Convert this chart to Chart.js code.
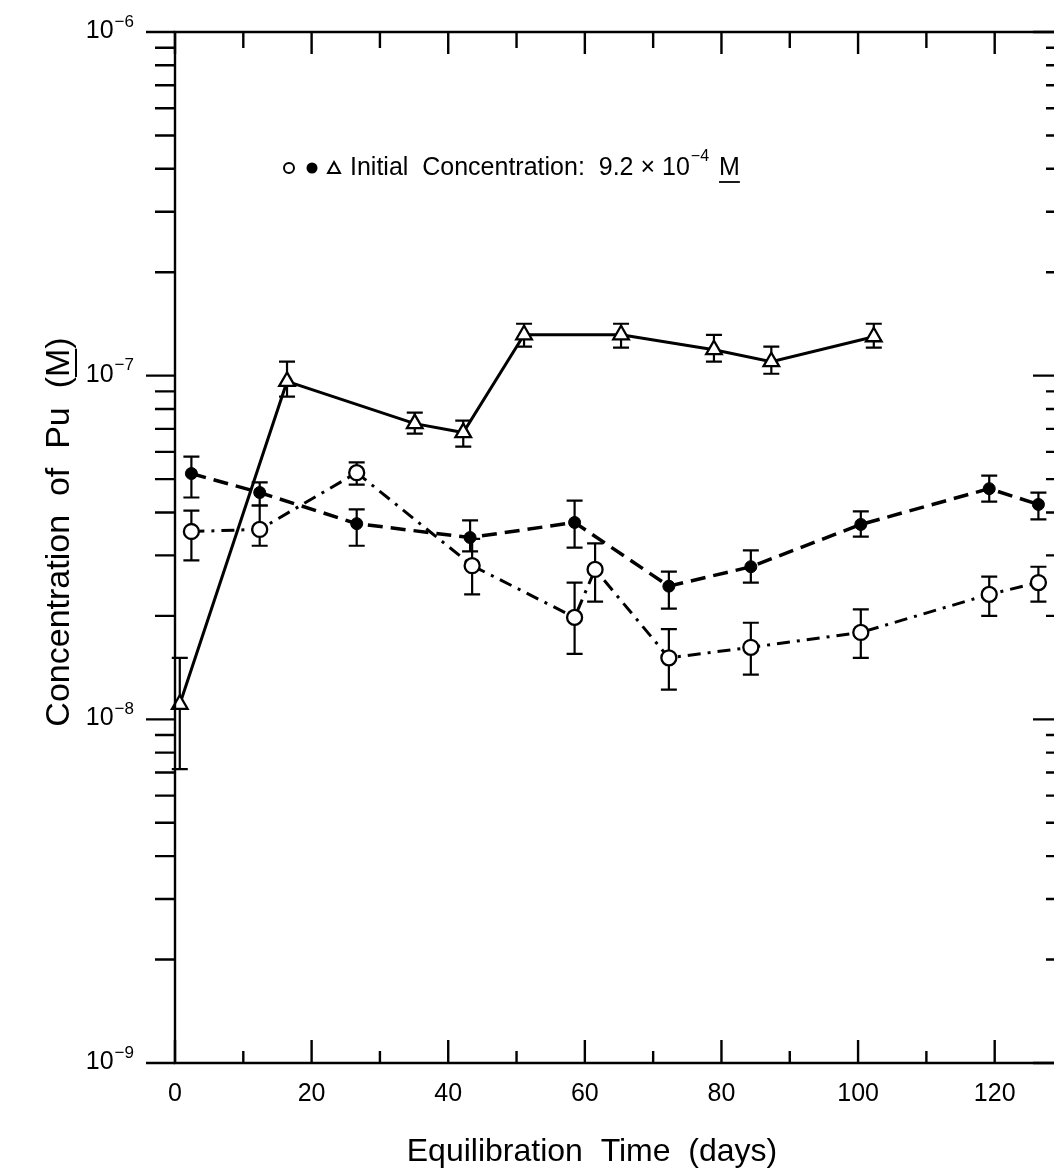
<!DOCTYPE html>
<html><head><meta charset="utf-8">
<script src="https://cdn.jsdelivr.net/npm/chart.js@4/dist/chart.umd.min.js"></script>
<style>
html,body{margin:0;padding:0;background:#fff;overflow:hidden;width:1054px;height:1175px}
canvas{display:block}
</style>
</head><body>
<canvas id="c" width="1080" height="1175"></canvas>
<script>
// ---- data ----
const openDays  = [2.4, 12.4, 26.6, 43.5, 58.5, 61.5, 72.3, 84.3, 100.4, 119.2, 126.4];
const openConc  = [3.52e-8, 3.57e-8, 5.22e-8, 2.80e-8, 1.98e-8, 2.73e-8, 1.51e-8, 1.62e-8, 1.79e-8, 2.31e-8, 2.50e-8];
const openLow   = [2.90e-8, 3.20e-8, 4.82e-8, 2.31e-8, 1.55e-8, 2.20e-8, 1.22e-8, 1.35e-8, 1.51e-8, 2.00e-8, 2.20e-8];
const openHigh  = [4.05e-8, 4.19e-8, 5.59e-8, 3.35e-8, 2.50e-8, 3.25e-8, 1.83e-8, 1.91e-8, 2.09e-8, 2.60e-8, 2.78e-8];

const filledDays = [2.4, 12.4, 26.6, 43.2, 58.5, 72.3, 84.3, 100.4, 119.2, 126.4];
const filledConc = [5.19e-8, 4.57e-8, 3.71e-8, 3.38e-8, 3.74e-8, 2.44e-8, 2.78e-8, 3.69e-8, 4.69e-8, 4.22e-8];
const filledLow  = [4.42e-8, 4.19e-8, 3.20e-8, 3.08e-8, 3.16e-8, 2.10e-8, 2.50e-8, 3.40e-8, 4.30e-8, 3.82e-8];
const filledHigh = [5.81e-8, 4.89e-8, 4.08e-8, 3.79e-8, 4.33e-8, 2.69e-8, 3.10e-8, 4.03e-8, 5.12e-8, 4.57e-8];

const triDays = [0.7, 16.4, 35.1, 42.2, 51.1, 65.3, 78.9, 87.3, 102.3];
const triConc = [1.106e-8, 9.62e-8, 7.25e-8, 6.83e-8, 1.315e-7, 1.315e-7, 1.19e-7, 1.098e-7, 1.298e-7];
const triLow  = [7.16e-9, 8.69e-8, 6.78e-8, 6.22e-8, 1.215e-7, 1.206e-7, 1.098e-7, 1.013e-7, 1.206e-7];
const triHigh = [1.51e-8, 1.099e-7, 7.81e-8, 7.40e-8, 1.416e-7, 1.416e-7, 1.315e-7, 1.215e-7, 1.416e-7];

const xMajorTicks = [0, 20, 40, 60, 80, 100, 120];
const xMinorTicks = [10, 30, 50, 70, 90, 110, 130];
const xTickLabels = ['0', '20', '40', '60', '80', '100', '120'];
const yDecadeExponents = [-6, -7, -8, -9];
const xRange = [0, 130];
const yRange = [1e-9, 1e-6];

const xTitle = 'Equilibration  Time  (days)';
const yTitleMain = 'Concentration  of  Pu  (';
const yTitleUnit = 'M';
const legendText = 'Initial  Concentration:  9.2 \u00D7 10';
const legendExp = '\u22124';
const legendUnit = 'M';

// ---- chart ----
const FONT = "'Liberation Sans', Arial, Helvetica, sans-serif";
const pts = (xs, ys) => xs.map((x, i) => ({x: x, y: ys[i]}));

const errorBars = [
  {days: openDays, low: openLow, high: openHigh},
  {days: filledDays, low: filledLow, high: filledHigh},
  {days: triDays, low: triLow, high: triHigh}
];

function drawPow(ctx, xRight, yMid, base, exp, size) {
  ctx.save();
  ctx.textBaseline = 'alphabetic';
  ctx.textAlign = 'left';
  const supSize = Math.round(size * 0.68);
  ctx.font = supSize + 'px ' + FONT;
  const wExp = ctx.measureText(exp).width;
  ctx.font = size + 'px ' + FONT;
  const wBase = ctx.measureText(base).width;
  const x0 = xRight - wExp - wBase - 1;
  const baseline = yMid + size * 0.36;
  ctx.fillText(base, x0, baseline);
  ctx.font = supSize + 'px ' + FONT;
  ctx.fillText(exp, x0 + wBase + 1, baseline - size * 0.45);
  ctx.restore();
}

const framePlugin = {
  id: 'frame',
  beforeDatasetsDraw(chart) {
    const ctx = chart.ctx, xs = chart.scales.x, ys = chart.scales.y;
    ctx.save();
    ctx.strokeStyle = '#000';
    ctx.lineWidth = 2.2;
    errorBars.forEach(s => {
      s.days.forEach((d, i) => {
        const px = xs.getPixelForValue(d);
        const y1 = ys.getPixelForValue(s.low[i]);
        const y2 = ys.getPixelForValue(s.high[i]);
        ctx.beginPath();
        ctx.moveTo(px, y1); ctx.lineTo(px, y2);
        ctx.moveTo(px - 8, y1); ctx.lineTo(px + 8, y1);
        ctx.moveTo(px - 8, y2); ctx.lineTo(px + 8, y2);
        ctx.stroke();
      });
    });
    ctx.restore();
  },
  afterDraw(chart) {
    const ctx = chart.ctx, xs = chart.scales.x, ys = chart.scales.y;
    const a = chart.chartArea;
    ctx.save();
    ctx.strokeStyle = '#000';
    ctx.fillStyle = '#000';
    ctx.lineWidth = 2.4;
    ctx.lineCap = 'butt';
    // frame
    ctx.beginPath();
    ctx.rect(a.left, a.top, a.right - a.left, a.bottom - a.top);
    ctx.stroke();
    // y ticks (left outward, right inward)
    yDecadeExponents.forEach((e, k) => {
      for (let m = 1; m <= 9; m++) {
        if (m > 1 && k === 0) continue;
        const v = m * Math.pow(10, e);
        if (v < yRange[0] || v > yRange[1]) continue;
        const py = ys.getPixelForValue(v);
        const major = m === 1;
        ctx.beginPath();
        ctx.moveTo(a.left - (major ? 29 : 20), py); ctx.lineTo(a.left, py);
        ctx.moveTo(a.right - (major ? 30 : 17), py); ctx.lineTo(a.right, py);
        ctx.stroke();
      }
    });
    // x ticks (bottom and top, inward)
    xMajorTicks.forEach(t => {
      const px = xs.getPixelForValue(t);
      ctx.beginPath();
      ctx.moveTo(px, a.bottom); ctx.lineTo(px, a.bottom - 23);
      ctx.moveTo(px, a.top); ctx.lineTo(px, a.top + 22);
      ctx.stroke();
    });
    xMinorTicks.forEach(t => {
      const px = xs.getPixelForValue(t);
      ctx.beginPath();
      ctx.moveTo(px, a.bottom); ctx.lineTo(px, a.bottom - 12);
      ctx.moveTo(px, a.top); ctx.lineTo(px, a.top + 16);
      ctx.stroke();
    });
    // x tick labels
    ctx.font = '25px ' + FONT;
    ctx.textAlign = 'center';
    ctx.textBaseline = 'middle';
    xMajorTicks.forEach((t, i) => {
      ctx.fillText(xTickLabels[i], xs.getPixelForValue(t), a.bottom + 31);
    });
    // y tick labels
    yDecadeExponents.forEach(e => {
      drawPow(ctx, a.left - 41, ys.getPixelForValue(Math.pow(10, e)) - 3, '10', '\u2212' + Math.abs(e), 25);
    });
    // x title
    ctx.font = '32px ' + FONT;
    ctx.textAlign = 'center';
    ctx.textBaseline = 'middle';
    ctx.fillText(xTitle, 592, 1152);
    // y title (rotated)
    ctx.save();
    ctx.translate(60, 532);
    ctx.rotate(-Math.PI / 2);
    ctx.font = '34px ' + FONT;
    const w1 = ctx.measureText(yTitleMain).width;
    const wM = ctx.measureText(yTitleUnit).width;
    const w3 = ctx.measureText(')').width;
    const total = w1 + wM + w3;
    let x0 = -total / 2;
    ctx.textAlign = 'left';
    ctx.textBaseline = 'middle';
    ctx.fillText(yTitleMain, x0, 0);
    ctx.fillText(yTitleUnit, x0 + w1, 0);
    ctx.fillText(')', x0 + w1 + wM, 0);
    ctx.lineWidth = 2;
    ctx.beginPath();
    ctx.moveTo(x0 + w1, 16); ctx.lineTo(x0 + w1 + wM, 16);
    ctx.stroke();
    ctx.restore();
    // legend line
    const ly = 168;
    ctx.lineWidth = 2;
    ctx.beginPath(); ctx.arc(289, ly, 5, 0, Math.PI * 2); ctx.stroke();
    ctx.beginPath(); ctx.arc(312, ly, 5.5, 0, Math.PI * 2); ctx.fill();
    ctx.beginPath();
    ctx.moveTo(334, ly - 6); ctx.lineTo(340, ly + 5); ctx.lineTo(328, ly + 5); ctx.closePath();
    ctx.stroke();
    ctx.font = '25px ' + FONT;
    ctx.textAlign = 'left';
    ctx.textBaseline = 'middle';
    ctx.fillText(legendText, 350, ly);
    const wl = ctx.measureText(legendText).width;
    ctx.font = '16px ' + FONT;
    ctx.fillText(legendExp, 350 + wl + 1, ly - 11);
    const we = ctx.measureText(legendExp).width;
    ctx.font = '25px ' + FONT;
    const mx = 350 + wl + we + 11;
    ctx.fillText(legendUnit, mx, ly);
    const wm = ctx.measureText(legendUnit).width;
    ctx.lineWidth = 1.8;
    ctx.beginPath(); ctx.moveTo(mx, ly + 14); ctx.lineTo(mx + wm, ly + 14); ctx.stroke();
    ctx.restore();
  }
};

new Chart(document.getElementById('c'), {
  type: 'line',
  data: {
    datasets: [
      {
        label: 'open',
        data: pts(openDays, openConc),
        borderColor: '#000', borderWidth: 3, borderDash: [13, 7, 3, 7],
        pointStyle: 'circle', pointRadius: 7.5, pointBackgroundColor: '#fff',
        pointBorderColor: '#000', pointBorderWidth: 2.3, tension: 0, clip: false
      },
      {
        label: 'filled',
        data: pts(filledDays, filledConc),
        borderColor: '#000', borderWidth: 3.5, borderDash: [15, 8],
        pointStyle: 'circle', pointRadius: 6, pointBackgroundColor: '#000',
        pointBorderColor: '#000', pointBorderWidth: 1, tension: 0, clip: false
      },
      {
        label: 'triangle',
        data: pts(triDays, triConc),
        borderColor: '#000', borderWidth: 3,
        pointStyle: 'triangle', pointRadius: 9, pointBackgroundColor: '#fff',
        pointBorderColor: '#000', pointBorderWidth: 2.3, tension: 0, clip: false
      }
    ]
  },
  options: {
    responsive: false,
    animation: false,
    devicePixelRatio: 1,
    layout: {padding: {left: 175, top: 32, right: 17, bottom: 112}},
    plugins: {legend: {display: false}, tooltip: {enabled: false}},
    scales: {
      x: {type: 'linear', min: xRange[0], max: xRange[1], display: false},
      y: {type: 'logarithmic', min: yRange[0], max: yRange[1], display: false}
    }
  },
  plugins: [framePlugin]
});
</script>
</body></html>
